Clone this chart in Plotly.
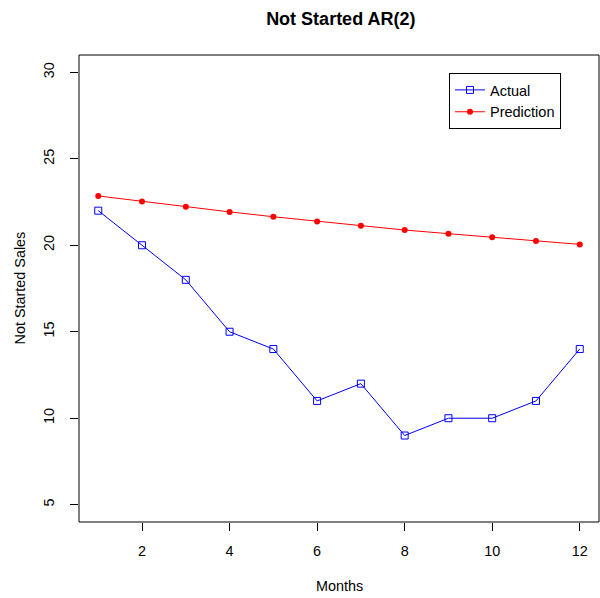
import plotly.graph_objects as go

months = [1, 2, 3, 4, 5, 6, 7, 8, 9, 10, 11, 12]
actual = [22, 20, 18, 15, 14, 11, 12, 9, 10, 10, 11, 14]
prediction = [22.85, 22.53, 22.23, 21.93, 21.65, 21.38, 21.13, 20.88, 20.67, 20.46, 20.24, 20.05]

x_ticks = [2, 4, 6, 8, 10, 12]
y_ticks = [5, 10, 15, 20, 25, 30]

FONT = "Liberation Sans, Arial, Helvetica, sans-serif"

fig = go.Figure()
fig.add_trace(go.Scatter(
    x=months, y=actual, mode="lines+markers", name="Actual",
    line=dict(color="#0000FF", width=1),
    marker=dict(symbol="square-open", size=7, color="#0000FF", line=dict(width=1, color="#0000FF")),
))
fig.add_trace(go.Scatter(
    x=months, y=prediction, mode="lines+markers", name="Prediction",
    line=dict(color="#FF0000", width=1),
    marker=dict(symbol="circle", size=6, color="#FF0000"),
))

fig.update_layout(
    width=600, height=598,
    margin=dict(l=79, r=1, t=55, b=76),
    paper_bgcolor="white", plot_bgcolor="white",
    font=dict(family=FONT, size=14.4, color="black"),
    showlegend=True,
    legend=dict(
        x=0.7115, y=0.9615, xanchor="left", yanchor="top",
        bordercolor="black", borderwidth=1, bgcolor="white",
        font=dict(size=14.5, family=FONT),
        tracegroupgap=0, itemwidth=30,
    ),
    title=dict(text="<b>Not Started AR(2)</b>", x=0.568, xanchor="center",
               y=1 - 19 / 598, yanchor="middle", font=dict(size=18, family=FONT)),
    xaxis=dict(
        range=[0.56, 12.44], tickvals=x_ticks, ticks="outside", ticklen=8,
        tickcolor="black", tickwidth=1, showgrid=False, zeroline=False,
        showline=False, ticklabelstandoff=8, tickfont=dict(size=14.4, family=FONT),
    ),
    yaxis=dict(
        range=[4, 31], tickvals=y_ticks, ticks="outside", ticklen=8,
        tickcolor="black", tickwidth=1, showgrid=False, zeroline=False,
        showline=False, tickangle=-90, ticklabelstandoff=10, tickfont=dict(size=14.4, family=FONT),
    ),
    shapes=[dict(type="rect", xref="paper", yref="paper", x0=0, y0=0, x1=1, y1=1,
                 line=dict(color="black", width=1))],
    annotations=[
        dict(text="Months", xref="paper", yref="paper", x=0.5, y=0, yanchor="middle",
             yshift=-64, showarrow=False, font=dict(size=14.4, family=FONT)),
        dict(text="Not Started Sales", xref="paper", yref="paper", x=0, y=0.5, xanchor="center",
             xshift=-60, textangle=-90, showarrow=False, font=dict(size=14.4, family=FONT)),
    ],
)

fig.write_html("out.html", post_script="document.body.style.margin='0';",
               config={"displayModeBar": False})
